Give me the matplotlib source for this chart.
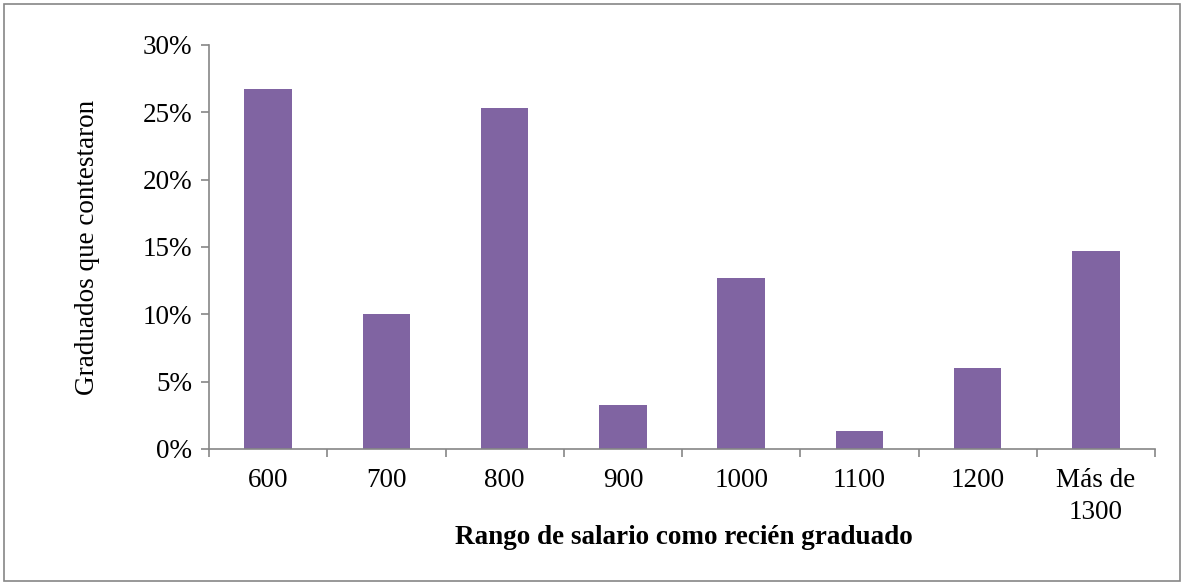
import matplotlib
matplotlib.use("Agg")
import matplotlib.pyplot as plt
from matplotlib.patches import Rectangle
from matplotlib.ticker import FuncFormatter

categories = ["600", "700", "800", "900", "1000", "1100", "1200", "Más de\n1300"]
values = [26.7, 10.0, 25.3, 3.3, 12.7, 1.3, 6.0, 14.7]
yticks = [0, 5, 10, 15, 20, 25, 30]

W, H = 1183, 582
fig = plt.figure(figsize=(W / 100, H / 100), dpi=100)
plt.rcParams['font.family'] = ['Liberation Serif', 'DejaVu Serif']
FS = 19.5

fig.patches.append(Rectangle((4 / W, 1 / H), (1180 - 4) / W, (H - 5) / H,
                             transform=fig.transFigure, fill=False,
                             edgecolor='#868686', linewidth=1.2))

ax = fig.add_axes([209 / W, (H - 449) / H, (1155 - 209) / W, (449 - 45) / H])
x = list(range(len(categories)))
ax.bar(x, values, width=0.4, color='#8064A2')
ax.set_xlim(-0.5, len(categories) - 0.5)
ax.set_ylim(0, 30)
ax.set_yticks(yticks)
ax.yaxis.set_major_formatter(FuncFormatter(lambda v, p: f"{int(v)}%"))
ax.set_xticks([i + 0.5 for i in range(-1, len(categories))])
ax.set_xticklabels([])
ax.set_xticks(x, minor=True)
ax.set_xticklabels(categories, minor=True)
ax.tick_params(axis='x', which='minor', length=0, pad=14, labelsize=FS)
ax.tick_params(axis='x', which='major', length=6, color='#868686', width=1.2)
ax.tick_params(axis='y', length=6, color='#868686', width=1.2, labelsize=FS, pad=6)
for lbl in ax.get_xticklabels(minor=True):
    lbl.set_linespacing(1.35)
    lbl.set_verticalalignment('top')
for s in ['top', 'right']:
    ax.spines[s].set_visible(False)
for s in ['left', 'bottom']:
    ax.spines[s].set_color('#868686')
    ax.spines[s].set_linewidth(1.2)

fig.text(88 / W, 1 - 247 / H, "Graduados que contestaron", rotation=90,
         ha='center', va='center', fontsize=FS)
fig.text(684 / W, 1 - 537 / H, "Rango de salario como recién graduado",
         ha='center', va='center', fontsize=FS, fontweight='bold')

fig.savefig("out.png", dpi=100)
